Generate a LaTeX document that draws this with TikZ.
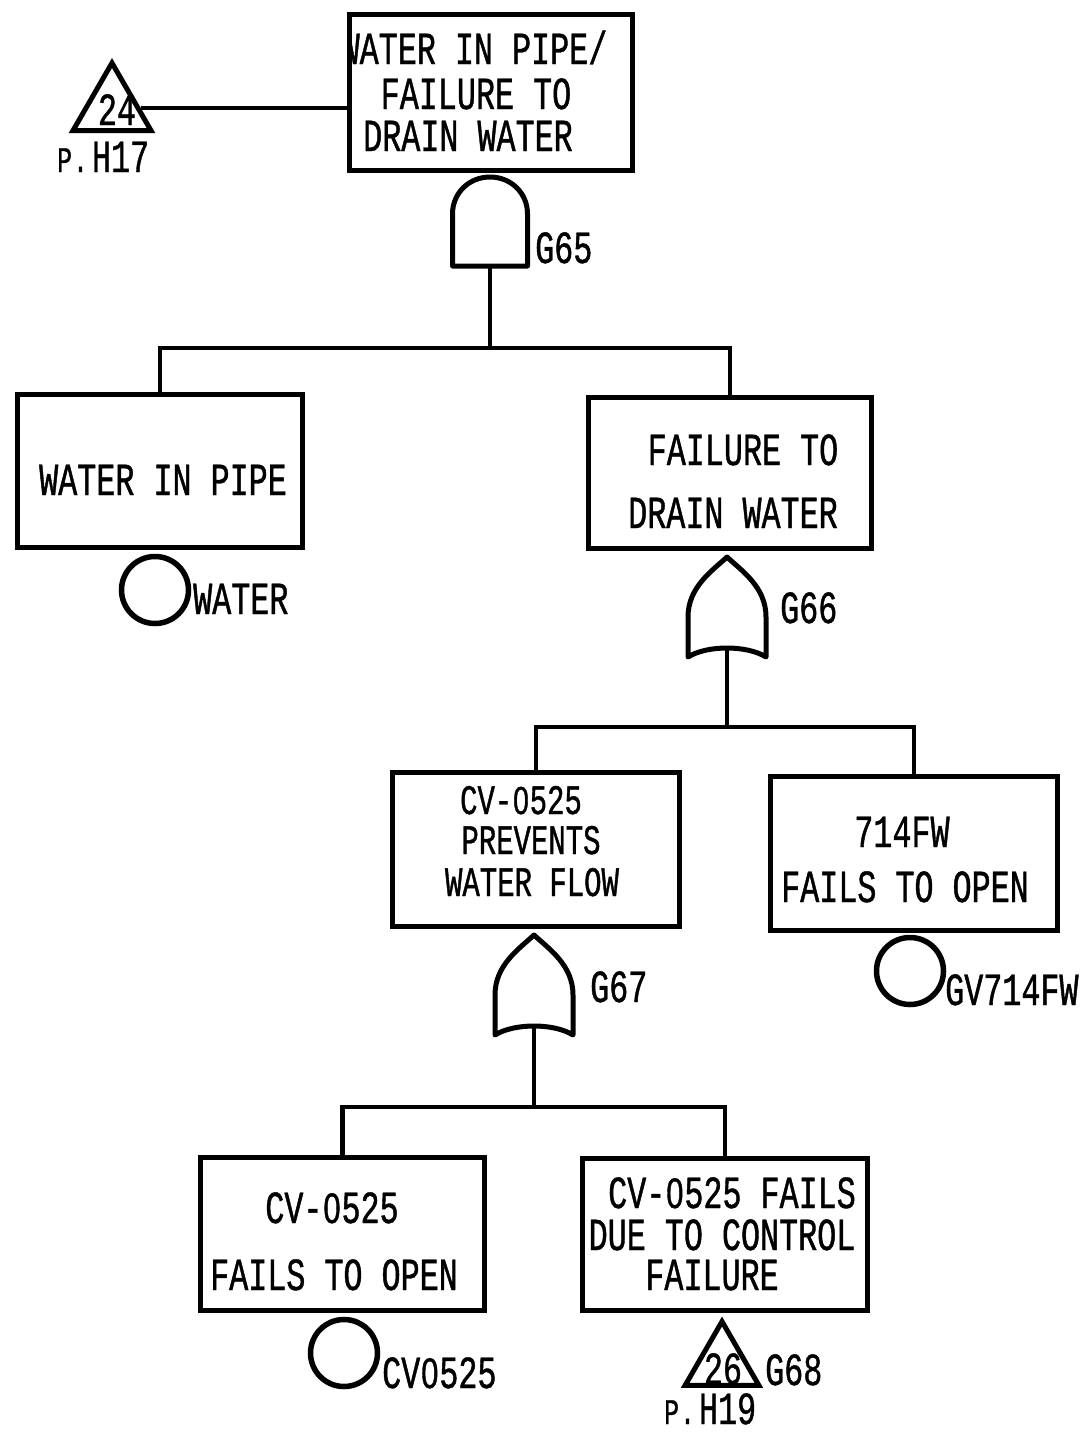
\documentclass[tikz,border=0pt]{standalone}
\usepackage{fontspec}
\usetikzlibrary{shapes.geometric,calc}
\newfontfamily\plotter[FakeStretch=0.69,FakeBold=0.9]{Liberation Mono}
% plain (undotted) zero, set in the width of a monospaced cell
\newfontfamily\zerofam[FakeStretch=0.72,FakeBold=0.9,Scale=0.93]{Liberation Sans}
\newcommand\zr{\makebox[\fontcharwd\font`0]{\zerofam 0}}
\newcommand\treefont{\plotter\fontsize{46}{46}\selectfont}
\newcommand\treefontsm{\plotter\fontsize{42}{42}\selectfont}
\newcommand\pagefont{\plotter\fontsize{36}{36}\selectfont}

\tikzset{
  box/.style={draw, line width=5pt, inner sep=0pt},
  wire/.style={line width=4.5pt},
  gate/.style={line width=5pt, line join=round},
  tight/.style={text height=31pt, text depth=1pt},
  txt/.style={inner sep=0pt, anchor=base, font=\treefont, tight},
  txtsm/.style={inner sep=0pt, anchor=base, font=\treefontsm, text height=28pt, text depth=1pt},
  lbl/.style={inner sep=0pt, anchor=base west, font=\treefont, tight},
  num/.style={inner sep=0pt, font=\treefont, tight},
  evt/.style={draw, circle, line width=5.5pt, minimum size=67pt, inner sep=0pt},
  xfer/.style={draw, regular polygon, regular polygon sides=3, line width=5pt,
               inner sep=0pt},
  andgate/.pic={
    \draw[gate] (-37.5,89) -- (-37.5,37) .. controls (-37.5,16) and (-21,0) .. (0,0)
      .. controls (21,0) and (37.5,16) .. (37.5,37) -- (37.5,89) -- cycle;
    \coordinate (-out) at (0,89);
  },
  orgate/.pic={
    \draw[gate] (0,0) .. controls (15,14) and (39,30) .. (39,60) -- (39,100)
      .. controls (20,88) and (-20,88) .. (-39,100) -- (-39,60)
      .. controls (-39,30) and (-15,14) .. (0,0) -- cycle;
    \coordinate (-out) at (0,91);
  }
}

\begin{document}
\begin{tikzpicture}[x=1pt,y=-1pt]
\useasboundingbox (0,0) rectangle (1090,1433);
\fill[white] (0,0) rectangle (1090,1433);

% top event
\node[box, minimum width=283pt, minimum height=156pt] (top) at (491,92.5) {};
\begin{scope}
  \clip (top.north west) rectangle (top.south east);
  \node[txt] (top-1) at (474,64) {WATER IN PIPE/};
  \node[txt] (top-2) at (476,109) {FAILURE TO};
  \node[txt] (top-3) at (468,151) {DRAIN WATER};
\end{scope}

% transfer in from page H17
\node[xfer, minimum size=90pt] (t24) at (112,108) {};
\node[num] (t24-num) at (117,110) {24};
\node[lbl] (t24-pg) at (57,172) {{\pagefont P\kern1pt.}\kern4ptH17};

% AND gate G65
\pic (g65) at (490,177) {andgate};
\node[lbl] (g65-lbl) at (535,263) {G65};

% water in pipe
\node[box, minimum width=285pt, minimum height=153pt] (a) at (160,471) {};
\node[txt] (a-1) at (163,495) {WATER IN PIPE};
\node[evt] (a-ev) at (155,590) {};
\node[lbl] (a-evl) at (193,614) {WATER};

% failure to drain water
\node[box, minimum width=283pt, minimum height=151pt] (b) at (730,473) {};
\node[txt] (b-1) at (743,465) {FAILURE TO};
\node[txt] (b-2) at (733,528) {DRAIN WATER};
\pic (g66) at (727,557) {orgate};
\node[lbl] (g66-lbl) at (780,623) {G66};

% CV-0525 prevents water flow
\node[box, minimum width=287pt, minimum height=154pt] (c) at (536,849.5) {};
\node[txtsm] (c-1) at (521,814) {CV-\zr525};
\node[txtsm] (c-2) at (531,854) {PREVENTS};
\node[txtsm] (c-3) at (532,896) {WATER FLOW};
\pic (g67) at (534,935) {orgate};
\node[lbl] (g67-lbl) at (590,1002) {G67};

% 714FW fails to open
\node[box, minimum width=287pt, minimum height=154pt] (d) at (914,853.5) {};
\node[txt] (d-1) at (902,847) {714FW};
\node[txt] (d-2) at (905,902) {FAILS TO OPEN};
\node[evt] (d-ev) at (910,971) {};
\node[lbl] (d-evl) at (945,1005) {GV714FW};

% CV-0525 fails to open
\node[box, minimum width=284pt, minimum height=153pt] (e) at (342.5,1234) {};
\node[txt] (e-1) at (332,1223) {CV-\zr525};
\node[txt] (e-2) at (334,1290) {FAILS TO OPEN};
\node[evt] (e-ev) at (344,1353) {};
\node[lbl] (e-evl) at (382,1388) {CV\zr525};

% control failure, transferred to page H19
\node[box, minimum width=285pt, minimum height=152pt] (f) at (725,1234.5) {};
\node[txt] (f-1) at (732,1208) {CV-\zr525 FAILS};
\node[txt] (f-2) at (722,1250) {DUE TO CONTROL};
\node[txt] (f-3) at (712,1290) {FAILURE};
\node[xfer, minimum size=85pt] (t26) at (722,1364) {};
\node[num] (t26-num) at (723,1369) {26};
\node[lbl] (t26-gate) at (765,1385) {G68};
\node[lbl] (t26-pg) at (664,1424) {{\pagefont P\kern1pt.}\kern4ptH19};

% connectors
\coordinate (bar1) at (490,348);
\coordinate (bar2) at (727,727);
\coordinate (bar3) at (534,1107);
\draw[wire] (t24.east) -- (t24.east -| top.west);
\draw[wire] (g65-out) -- (bar1);
\draw[wire] (a.north) |- (bar1) -| (b.north);
\draw[wire] (g66-out) -- (bar2);
\draw[wire] (c.north) |- (bar2) -| (d.north);
\draw[wire] (g67-out) -- (bar3);
\draw[wire] (e.north) |- (bar3) -| (f.north);
\end{tikzpicture}
\end{document}
